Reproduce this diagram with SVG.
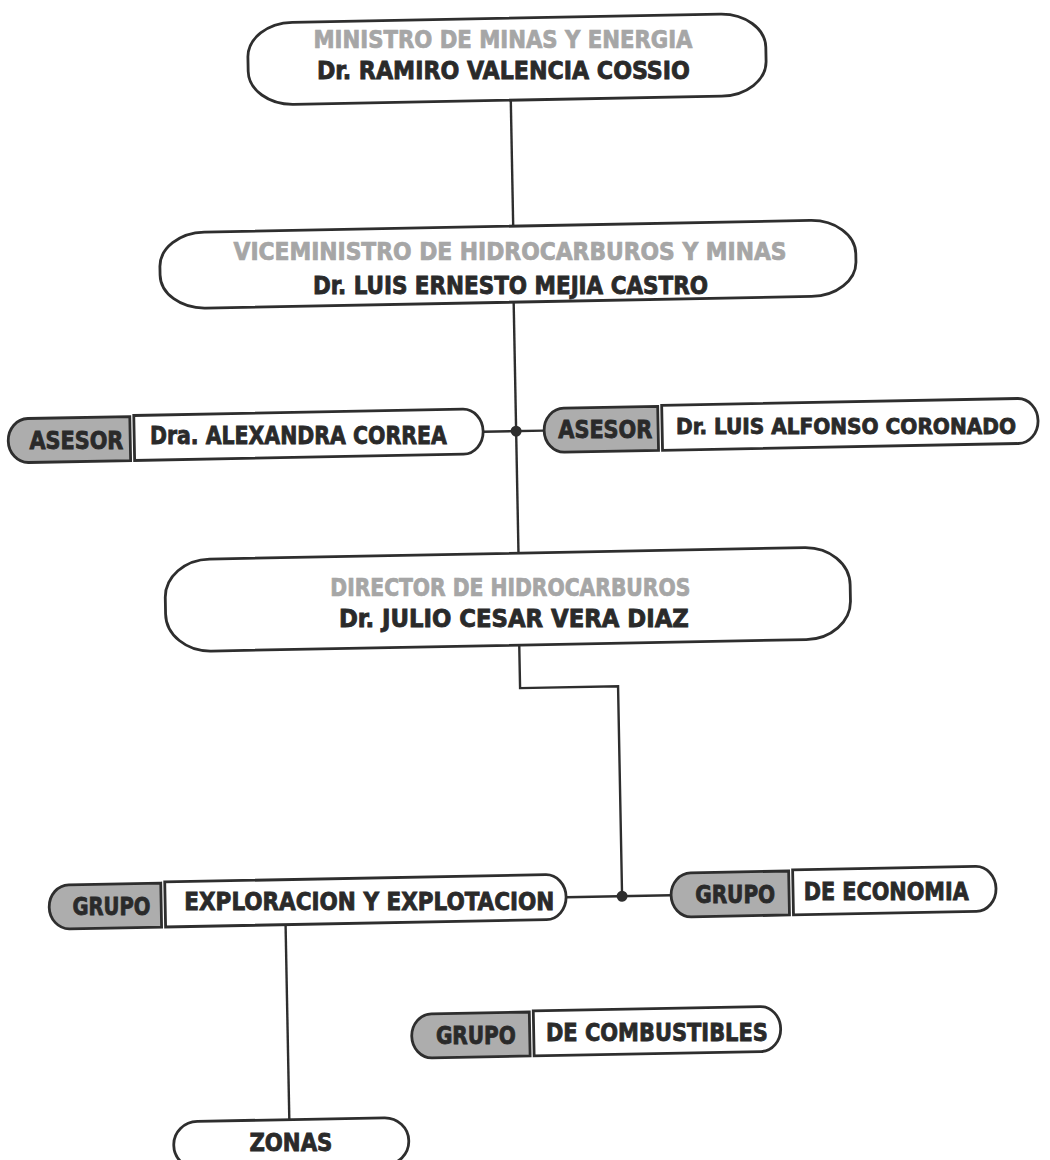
<svg xmlns="http://www.w3.org/2000/svg" width="1050" height="1160" viewBox="0 0 1050 1160">
<defs>
<style>
.bg{fill:#ffffff}
.box{fill:#ffffff;stroke:#2e2e2e;stroke-width:2.8}
.pill{fill:#adadad;stroke:#2e2e2e;stroke-width:2.8}
.wire{fill:none;stroke:#2e2e2e;stroke-width:2.4}
.dot{fill:#2e2e2e}
text{font-family:"Liberation Sans Narrow","DejaVu Sans Condensed","Liberation Sans",sans-serif;font-weight:bold;text-anchor:middle}
.t1{fill:#a6a6a6;stroke:#a6a6a6;stroke-width:0.7;font-size:24px}
.t2{fill:#2a2a2a;stroke:#2a2a2a;stroke-width:0.8;font-size:25px}
.tl{fill:#2a2a2a;stroke:#2a2a2a;stroke-width:0.8;font-size:25px}
</style>
</defs>
<rect class="bg" x="0" y="0" width="1050" height="1160"/>
<g id="connectors" transform="rotate(-1.1 525 580)">
<path class="wire" d="M520 100 V226"/>
<path class="wire" d="M519 302 V553"/>
<path class="wire" d="M486 431 H547"/>
<circle class="dot" cx="519" cy="431" r="5.5"/>
<path class="wire" d="M518 645 V688 H616 V898"/>
<path class="wire" d="M560 898 H665"/>
<circle class="dot" cx="616" cy="898" r="5.5"/>
<path class="wire" d="M279 920 V1115"/>
</g>
<g id="ministro">
<rect class="box" x="258" y="18" width="518" height="82" rx="45" ry="34" transform="rotate(-1.1 525 580)"/>
<text class="t1" x="503" y="48.3" textLength="379" lengthAdjust="spacingAndGlyphs">MINISTRO DE MINAS Y ENERGIA</text>
<text class="t2" x="503.4" y="79.3" textLength="373" lengthAdjust="spacingAndGlyphs">Dr. RAMIRO VALENCIA COSSIO</text>
</g>
<g id="viceministro">
<rect class="box" x="166" y="226" width="696" height="76" rx="45" ry="34" transform="rotate(-1.1 525 580)"/>
<text class="t1" x="510" y="260.2" textLength="553" lengthAdjust="spacingAndGlyphs">VICEMINISTRO DE HIDROCARBUROS Y MINAS</text>
<text class="t2" x="510.5" y="294.2" textLength="395" lengthAdjust="spacingAndGlyphs">Dr. LUIS ERNESTO MEJIA CASTRO</text>
</g>
<g id="asesor-izq">
<g transform="rotate(-1.1 525 580)">
<path class="pill" d="M133 409 H31 A20 22 0 0 0 31 453 H133 Z"/>
<path class="box" d="M137 408 H466 A20 22.5 0 0 1 466 453 H137 Z"/>
</g>
<text class="tl" x="76.4" y="448.6" textLength="94" lengthAdjust="spacingAndGlyphs">ASESOR</text>
<text class="tl" x="298.4" y="444.3" textLength="297" lengthAdjust="spacingAndGlyphs">Dra. ALEXANDRA CORREA</text>
</g>
<g id="asesor-der">
<g transform="rotate(-1.1 525 580)">
<path class="pill" d="M661 409 H567 A20 22 0 0 0 567 453 H661 Z"/>
<path class="box" d="M665 408 H1021 A20 22.5 0 0 1 1021 453 H665 Z"/>
</g>
<text class="tl" x="605.3" y="438.4" textLength="94" lengthAdjust="spacingAndGlyphs">ASESOR</text>
<text class="tl" x="846" y="433.8" style="font-size:22px" textLength="340" lengthAdjust="spacingAndGlyphs">Dr. LUIS ALFONSO CORONADO</text>
</g>
<g id="director">
<rect class="box" x="165" y="553" width="685" height="92" rx="45" ry="38" transform="rotate(-1.1 525 580)"/>
<text class="t1" x="510.3" y="596.3" textLength="360" lengthAdjust="spacingAndGlyphs">DIRECTOR DE HIDROCARBUROS</text>
<text class="t2" x="513.9" y="627.2" textLength="350" lengthAdjust="spacingAndGlyphs">Dr. JULIO CESAR VERA DIAZ</text>
</g>
<g id="grupo-exploracion">
<g transform="rotate(-1.1 525 580)">
<path class="pill" d="M155 876 H63 A20 22 0 0 0 63 920 H155 Z"/>
<path class="box" d="M159 875 H540 A20 22.5 0 0 1 540 920 H159 Z"/>
</g>
<text class="tl" x="111.4" y="915" textLength="78" lengthAdjust="spacingAndGlyphs">GRUPO</text>
<text class="tl" x="369.3" y="910" textLength="370" lengthAdjust="spacingAndGlyphs">EXPLORACION Y EXPLOTACION</text>
</g>
<g id="grupo-economia">
<g transform="rotate(-1.1 525 580)">
<path class="pill" d="M783 876 H685 A20 22 0 0 0 685 920 H783 Z"/>
<path class="box" d="M787 875 H970 A20 22.5 0 0 1 970 920 H787 Z"/>
</g>
<text class="tl" x="735.2" y="903" textLength="80" lengthAdjust="spacingAndGlyphs">GRUPO</text>
<text class="tl" x="886.2" y="900.1" textLength="165" lengthAdjust="spacingAndGlyphs">DE ECONOMIA</text>
</g>
<g id="grupo-combustibles">
<g transform="rotate(-1.1 525 580)">
<path class="pill" d="M521 1012 H423 A20 22 0 0 0 423 1056 H521 Z"/>
<path class="box" d="M525 1011 H752 A20 22.5 0 0 1 752 1056 H525 Z"/>
</g>
<text class="tl" x="475.9" y="1044" textLength="80" lengthAdjust="spacingAndGlyphs">GRUPO</text>
<text class="tl" x="656.9" y="1040.5" textLength="222" lengthAdjust="spacingAndGlyphs">DE COMBUSTIBLES</text>
</g>
<g id="zonas">
<rect class="box" x="163" y="1115" width="235" height="47" rx="24" ry="23" transform="rotate(-1.1 525 580)"/>
<text class="tl" x="290.9" y="1150.6" textLength="83" lengthAdjust="spacingAndGlyphs">ZONAS</text>
</g>
</svg>
